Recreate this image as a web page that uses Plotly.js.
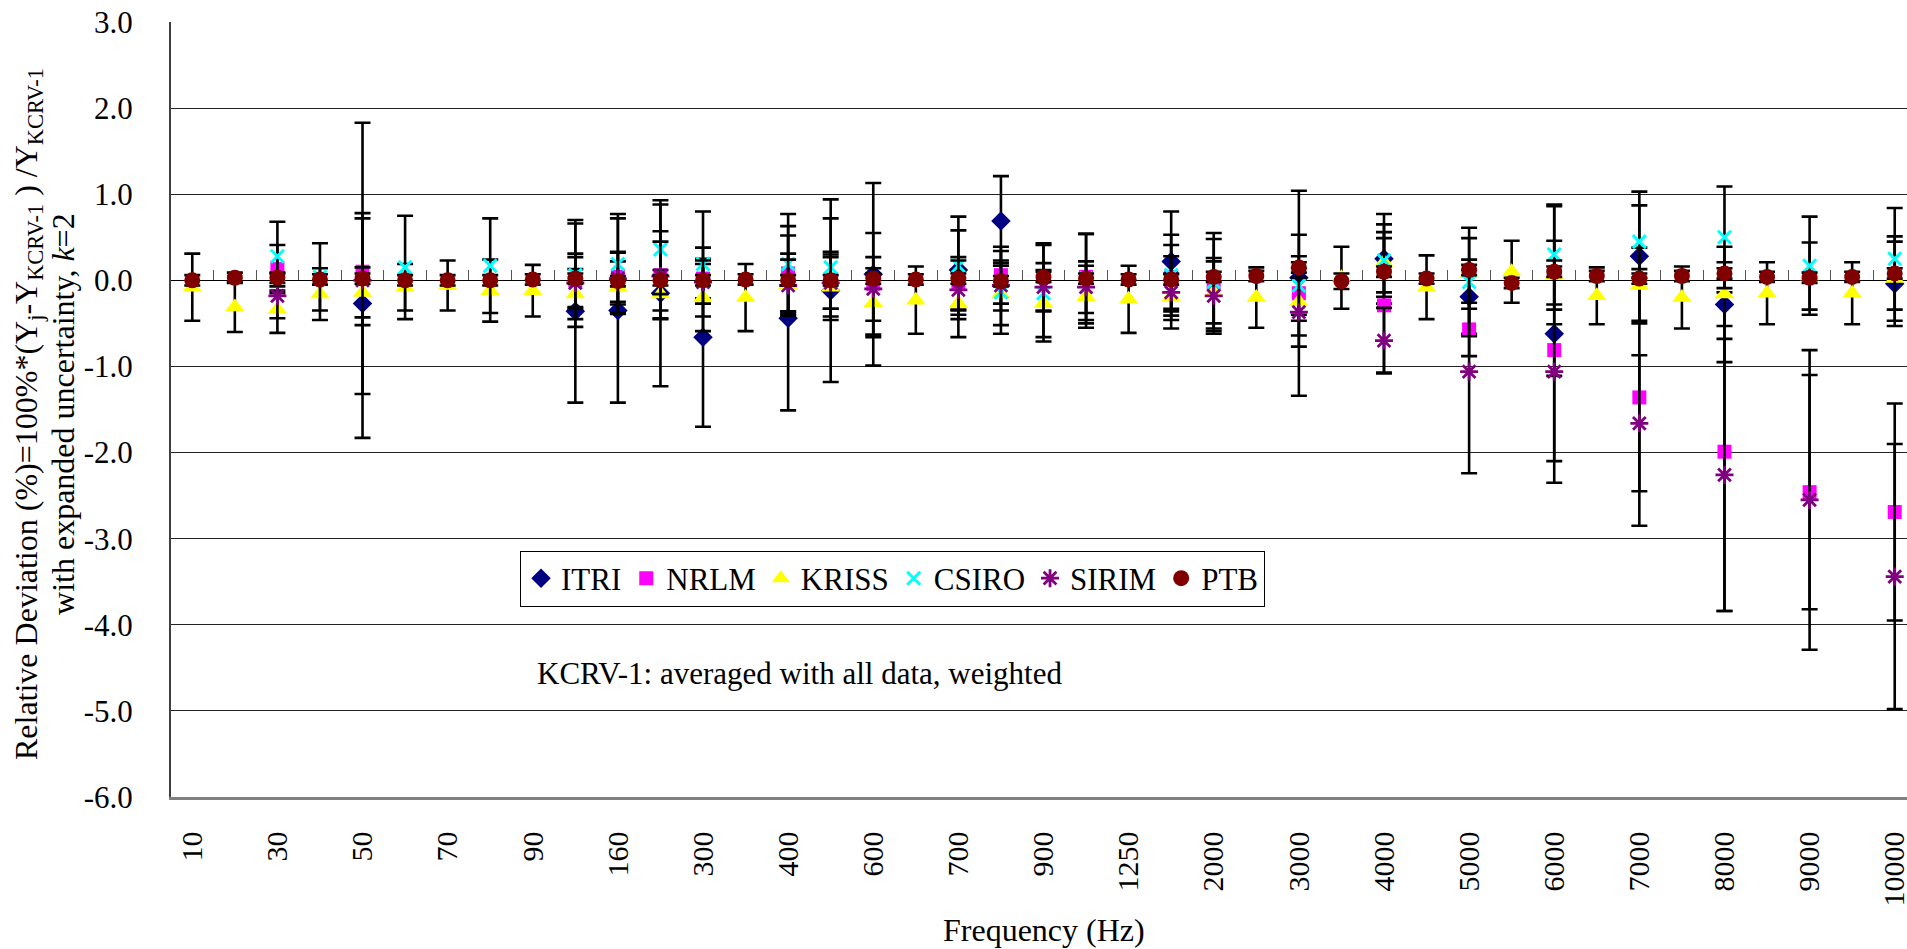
<!DOCTYPE html>
<html>
<head>
<meta charset="utf-8">
<script src="https://cdn.plot.ly/plotly-3.0.1.min.js"></script>
<style>
  html, body { margin: 0; padding: 0; background: #fff; overflow: hidden; }
  #chart { width: 1930px; height: 949px; }
</style>
</head>
<body>
<div id="chart"></div>
<script>
// Frequency categories (Hz)
const freqs = [10, 20, 30, 40, 50, 60, 70, 80, 90, 100,
               160, 200, 300, 315, 400, 500, 600, 630, 700, 800,
               900, 1000, 1250, 1600, 2000, 2500, 3000, 3500, 4000, 4500,
               5000, 5500, 6000, 6500, 7000, 7500, 8000, 8500, 9000, 9500, 10000];
const tickFreqs = [10, 30, 50, 70, 90, 160, 300, 400, 600, 700, 900, 1250,
                   2000, 3000, 4000, 5000, 6000, 7000, 8000, 9000, 10000];
const yTickVals = [3, 2, 1, 0, -1, -2, -3, -4, -5, -6];
const yTickText = ['3.0', '2.0', '1.0', '0.0', '-1.0', '-2.0', '-3.0', '-4.0', '-5.0', '-6.0'];

const _ = null;

// Relative deviation from KCRV-1 (%) and expanded uncertainty (k=2) per laboratory
const itri     = [_, _, _, _, -0.27, _, _, _, _, -0.36,
                  -0.35, -0.15, -0.66, _, -0.44, -0.12, 0.07, _, 0.12, 0.69,
                  _, _, _, 0.22, _, _, 0.03, _, 0.25, _,
                  -0.19, _, -0.62, _, 0.28, _, -0.28, _, _, _, -0.04];
const itriU    = [_, _, _, _, 1.05, _, _, _, _, 1.06,
                  1.07, 1.08, 1.04, _, 1.07, 1.06, 1.06, _, 0.46, 0.52,
                  _, _, _, 0.58, _, _, 0.50, _, 0.52, _,
                  0.43, _, 1.48, _, 0.75, _, 0.67, _, _, _, 0.49];

const nrlm     = [_, _, 0.13, _, 0.10, _, _, _, _, 0.00,
                  0.04, 0.06, 0.02, _, 0.08, 0.00, -0.04, _, -0.04, 0.06,
                  0.04, 0.04, _, 0.04, -0.04, _, -0.15, _, -0.29, _,
                  -0.57, _, -0.81, _, -1.36, _, -1.99, _, -2.46, _, -2.69];
const nrlmU    = [_, _, 0.28, _, 0.62, _, _, _, _, 0.31,
                  0.29, 0.51, 0.23, _, 0.44, 0.33, 0.59, _, 0.31, 0.33,
                  0.39, 0.50, _, 0.37, 0.52, _, 1.19, _, 0.78, _,
                  0.31, _, 0.30, _, 1.49, _, 1.85, _, 1.36, _, 1.26];

const kriss    = [-0.08, -0.31, -0.34, -0.16, -0.14, -0.08, -0.06, -0.12, -0.12, -0.16,
                  -0.08, -0.16, -0.20, -0.20, -0.05, -0.08, -0.26, -0.23, -0.27, -0.16,
                  -0.27, -0.19, -0.22, -0.19, -0.14, -0.20, -0.25, 0.03, 0.21, -0.08,
                  0.08, 0.10, 0.06, -0.18, -0.06, -0.20, -0.16, -0.15, 0.05, -0.15, 0.02];
const krissU   = [0.39, 0.29, 0.27, 0.30, 0.29, 0.27, 0.29, 0.36, 0.30, 0.29,
                  0.30, 0.28, 0.39, 0.39, 0.36, 0.38, 0.40, 0.39, 0.39, 0.36,
                  0.39, 0.36, 0.39, 0.27, 0.36, 0.35, 0.39, 0.36, 0.35, 0.37,
                  0.41, 0.36, 0.40, 0.33, 0.44, 0.36, 0.37, 0.36, 0.39, 0.36, 0.49];

const csiro    = [_, _, 0.28, 0.04, _, 0.15, _, 0.17, _, 0.06,
                  0.19, 0.36, 0.19, _, 0.19, 0.15, _, _, 0.17, -0.14,
                  -0.15, 0.02, _, 0.06, -0.02, _, -0.06, _, 0.23, _,
                  -0.02, _, 0.30, _, 0.45, _, 0.50, _, 0.17, _, 0.25];
const csiroU   = [_, _, 0.40, 0.39, _, 0.60, _, 0.55, _, 0.60,
                  0.58, 0.52, 0.61, _, 0.58, 0.57, _, _, 0.57, 0.48,
                  0.56, 0.52, _, 0.47, 0.57, _, 0.34, _, 0.42, _,
                  0.63, _, 0.58, _, 0.42, _, 0.59, _, 0.57, _, 0.59];

const sirim    = [_, _, -0.18, _, 0.00, _, _, _, _, -0.03,
                  0.02, 0.05, -0.02, _, -0.06, -0.03, -0.10, _, -0.11, -0.06,
                  -0.08, -0.08, _, -0.14, -0.18, _, -0.37, _, -0.70, _,
                  -1.06, _, -1.06, _, -1.66, _, -2.26, _, -2.55, _, -3.44];
const sirimU   = [_, _, 0.26, _, 1.83, _, _, _, _, 0.30,
                  0.30, 0.40, 0.25, _, 0.30, 0.30, 0.37, _, 0.34, 0.29,
                  0.28, 0.30, _, 0.42, 0.44, _, 0.40, _, 0.38, _,
                  1.18, _, 1.29, _, 0.79, _, 1.58, _, 1.74, _, 1.54];

const ptb      = [0.00, 0.03, 0.03, 0.01, 0.02, 0.00, 0.00, 0.00, 0.01, 0.02,
                  -0.01, 0.00, 0.00, 0.01, 0.00, 0.00, 0.02, 0.01, 0.02, -0.01,
                  0.04, 0.02, 0.01, 0.01, 0.04, 0.05, 0.15, -0.01, 0.10, 0.02,
                  0.12, -0.03, 0.10, 0.05, 0.02, 0.05, 0.08, 0.04, 0.03, 0.04, 0.08];
const ptbU     = [0.06, 0.06, 0.06, 0.06, 0.06, 0.06, 0.06, 0.06, 0.06, 0.06,
                  0.06, 0.06, 0.06, 0.06, 0.06, 0.06, 0.06, 0.06, 0.06, 0.06,
                  0.06, 0.06, 0.06, 0.06, 0.06, 0.06, 0.06, 0.09, 0.06, 0.06,
                  0.06, 0.06, 0.06, 0.06, 0.06, 0.06, 0.06, 0.06, 0.06, 0.06, 0.06];

const labNames = ['ITRI', 'NRLM', 'KRISS', 'CSIRO', 'SIRIM', 'PTB'];

const FONT = 'Liberation Serif, Times New Roman, serif';
const cats = freqs.map(String);

function errBars(arr) {
  return { type: 'data', array: arr, visible: true, color: '#000000', thickness: 2.6, width: 8 };
}

const styles = [
  { symbol: 'diamond',       color: '#000080', size: 15, line: { width: 0 } },
  { symbol: 'square',        color: '#FF00FF', size: 14, line: { width: 0 } },
  { symbol: 'triangle-up',   color: '#FFFF00', size: 17, line: { width: 0 } },
  { symbol: 'x-thin-open',   color: '#00FFFF', size: 13, line: { width: 3, color: '#00FFFF' } },
  { symbol: 'asterisk-open', color: '#800080', size: 15, line: { width: 2.8, color: '#800080' } },
  { symbol: 'circle',        color: '#800000', size: 16, line: { width: 0 } }
];
const values = [itri, nrlm, kriss, csiro, sirim, ptb];
const uncs   = [itriU, nrlmU, krissU, csiroU, sirimU, ptbU];

const traces = labNames.map((name, i) => ({
  type: 'scatter',
  mode: 'markers',
  name: name,
  x: cats,
  y: values[i],
  error_y: errBars(uncs[i]),
  marker: styles[i],
  cliponaxis: false
}));

// empty trace that carries the category tick marks drawn along the zero line
traces.push({ type: 'scatter', x: [], y: [], xaxis: 'x2', yaxis: 'y',
              showlegend: false, hoverinfo: 'skip' });

const layout = {
  width: 1930,
  height: 949,
  margin: { l: 171, r: 14, t: 22, b: 152 },
  paper_bgcolor: '#ffffff',
  plot_bgcolor: '#ffffff',
  font: { family: FONT, color: '#000000', size: 30 },
  showlegend: true,
  legend: {
    orientation: 'h',
    x: 0.2, xanchor: 'left',
    y: 0.318, yanchor: 'top',
    bgcolor: '#ffffff',
    bordercolor: '#000000',
    borderwidth: 1,
    font: { family: FONT, size: 31, color: '#000000' },
    traceorder: 'normal'
  },
  xaxis: {
    type: 'category',
    categoryorder: 'array',
    categoryarray: cats,
    range: [-0.5, cats.length - 0.5],
    tickmode: 'array',
    tickvals: tickFreqs.map(String),
    ticktext: tickFreqs.map(String),
    tickangle: -90,
    ticks: '',
    ticklabelstandoff: 20,
    tickfont: { family: FONT, size: 30, color: '#000000' },
    showgrid: false,
    zeroline: false,
    showline: true,
    linecolor: '#808080',
    linewidth: 2.5,
    fixedrange: true
  },
  xaxis2: {
    type: 'linear',
    overlaying: 'x',
    anchor: 'free',
    position: 6 / 9,
    side: 'bottom',
    range: [-0.5, cats.length - 0.5],
    tickmode: 'linear',
    tick0: -0.5,
    dtick: 1,
    ticks: 'inside',
    ticklen: 10,
    tickwidth: 1,
    tickcolor: '#555555',
    showticklabels: false,
    showgrid: false,
    zeroline: false,
    showline: false,
    fixedrange: true
  },
  yaxis: {
    range: [-6, 3],
    tickmode: 'array',
    tickvals: yTickVals,
    ticktext: yTickText,
    ticks: '',
    ticklabelstandoff: 30,
    tickfont: { family: FONT, size: 31, color: '#000000' },
    showgrid: true,
    gridcolor: '#222222',
    gridwidth: 1,
    zeroline: true,
    zerolinecolor: '#000000',
    zerolinewidth: 1.6,
    showline: true,
    linecolor: '#404040',
    linewidth: 2,
    fixedrange: true
  },
  annotations: [
    {
      xref: 'paper', yref: 'paper', x: 0.5, y: -0.1716,
      xanchor: 'center', yanchor: 'middle', showarrow: false,
      text: 'Frequency (Hz)',
      font: { family: FONT, size: 32, color: '#000000' }
    },
    {
      xref: 'paper', yref: 'paper', x: -0.082, y: 0.494,
      xanchor: 'center', yanchor: 'middle', showarrow: false, textangle: -90,
      text: 'Relative Deviation (%)=100%*(Y<sub>j</sub>-Y<sub>KCRV-1</sub> ) /Y<sub>KCRV-1</sub>',
      font: { family: FONT, size: 32, color: '#000000' }
    },
    {
      xref: 'paper', yref: 'paper', x: -0.062, y: 0.494,
      xanchor: 'center', yanchor: 'middle', showarrow: false, textangle: -90,
      text: 'with expanded uncertainty, <i>k</i>=2',
      font: { family: FONT, size: 32, color: '#000000' }
    },
    {
      xref: 'paper', yref: 'paper', x: 0.2086, y: 0.160,
      xanchor: 'left', yanchor: 'middle', showarrow: false,
      text: 'KCRV-1: averaged with all data, weighted',
      font: { family: FONT, size: 31, color: '#000000' }
    }
  ]
};

Plotly.newPlot('chart', traces, layout, { displayModeBar: false, staticPlot: true });
</script>
</body>
</html>
